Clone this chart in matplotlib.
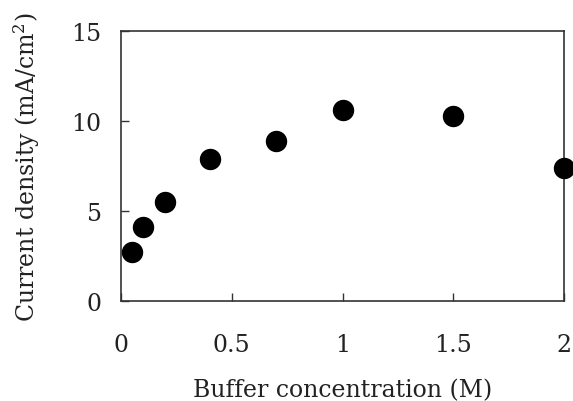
import matplotlib
matplotlib.use('Agg')
import matplotlib.pyplot as plt

# buffer concentration (M) vs current density (mA/cm2)
conc = [0.05, 0.1, 0.2, 0.4, 0.7, 1.0, 1.5, 2.0]
current = [2.74, 4.11, 5.5, 7.9, 8.89, 10.59, 10.28, 7.39]
xticks = [0, 0.5, 1, 1.5, 2]
xticklabels = ['0', '0.5', '1', '1.5', '2']
yticks = [0, 5, 10, 15]

plt.rcParams['font.family'] = 'DejaVu Serif'
plt.rcParams['mathtext.fontset'] = 'dejavuserif'

fig = plt.figure(figsize=(5.73, 4.02), dpi=100)
ax = fig.add_axes([121 / 573, 1 - 302 / 402, 443 / 573, 270 / 402])

ax.plot(conc, current, 'o', color='black', markersize=14.4, clip_on=False, zorder=3)

ax.set_xlim(0, 2)
ax.set_ylim(0, 15)
ax.set_xticks(xticks)
ax.set_xticklabels(xticklabels)
ax.set_yticks(yticks)

for s in ax.spines.values():
    s.set_linewidth(1.2)
    s.set_color('#333333')

ax.tick_params(axis='both', direction='in', length=6, width=1.0, color='#333333',
               labelsize=17, labelcolor='#222222')
ax.tick_params(axis='x', pad=23)
ax.tick_params(axis='y', pad=14)

ax.set_xlabel('Buffer concentration (M)', fontsize=17, color='#222222', labelpad=16)
ax.set_ylabel('Current density (mA/cm$^2$)', fontsize=17, color='#222222', labelpad=21)

fig.savefig('out.png', dpi=100)
